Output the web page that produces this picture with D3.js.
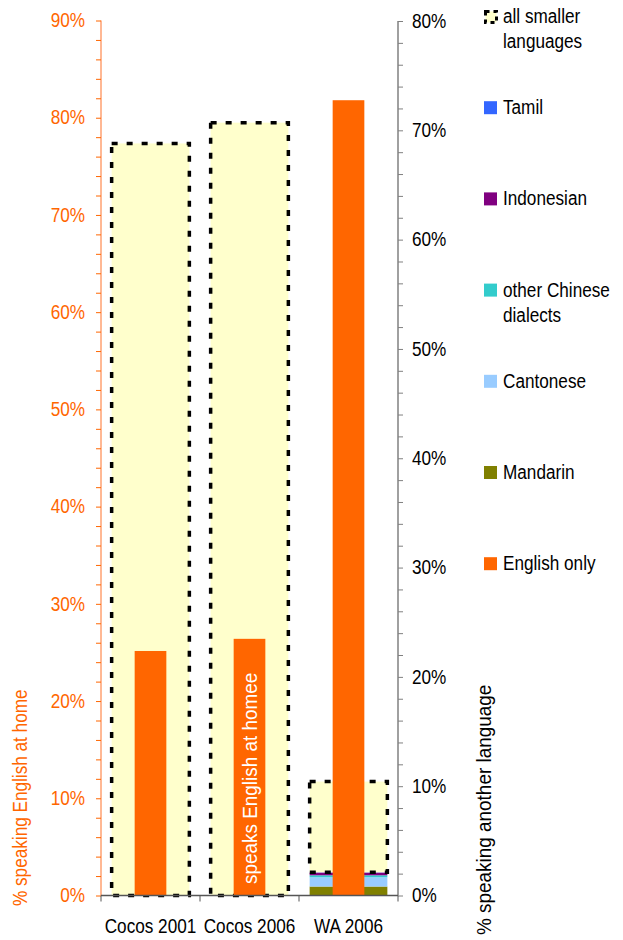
<!DOCTYPE html>
<html>
<head>
<meta charset="utf-8">
<script src="https://cdn.jsdelivr.net/npm/d3@7"></script>
<style>
  body { margin: 0; background: #fff; }
  text { font-family: "Liberation Sans", Arial, sans-serif; }
</style>
</head>
<body>
<div id="chart"></div>
<script>
// data
var categories = ["Cocos 2001", "Cocos 2006", "WA 2006"];
var englishOnly = [25.15, 26.4, 81.8];
var mandarin = [0, 0, 0.82];
var cantonese = [0, 0, 0.85];
var otherChinese = [0, 0, 0.18];
var indonesian = [0, 0, 0.25];
var tamil = [0, 0, 0.02];
var smaller = [68.8, 70.7, 8.3];

var leftTicks = d3.range(0, 91, 2);
var rightTicks = d3.range(0, 81, 2);

var stackKeys = ["Mandarin", "Cantonese", "other Chinese dialects", "Indonesian", "Tamil", "all smaller languages"];
var stackValues = [mandarin, cantonese, otherChinese, indonesian, tamil, smaller];
var colors = {
  "English only": "#FF6600",
  "Mandarin": "#808000",
  "Cantonese": "#99CCFF",
  "other Chinese dialects": "#33CCCC",
  "Indonesian": "#800080",
  "Tamil": "#3366FF",
  "all smaller languages": "#FFFFCC"
};
var legendOrder = ["all smaller languages", "Tamil", "Indonesian", "other Chinese dialects", "Cantonese", "Mandarin", "English only"];

var width = 623, height = 940,
    fontSize = 19.5,
    squeeze = 0.88;   // the original font is a bit condensed

var svg = d3.select("#chart")
            .append("svg")
              .attr("width", width)
              .attr("height", height);

// scales
var x = d3.scaleBand()
          .domain(categories)
          .range([101, 398])
          .padding(0);

var yLeft = d3.scaleLinear()
              .domain([0, 90])
              .range([895.5, 20.5]);

var yRight = d3.scaleLinear()
               .domain([0, 80])
               .range([895.5, 21]);

// table for stacking
var table = categories.map(function(c, i) {
  var row = {cat: c};
  stackKeys.forEach(function(k, j) { row[k] = stackValues[j][i]; });
  return row;
});
var series = d3.stack().keys(stackKeys)(table);

var wideW = x.bandwidth() * 0.785,
    narrowW = x.bandwidth() * 0.32;

// stacked other-language bars (right axis)
series.forEach(function(s) {
  var isSmaller = s.key === "all smaller languages";
  svg.append("g")
     .selectAll("rect")
     .data(s)
   .enter().append("rect")
     .attr("x", function(d) { return x(d.data.cat) + (x.bandwidth() - wideW) / 2; })
     .attr("width", wideW)
     .attr("y", function(d) { return yRight(d[1]); })
     .attr("height", function(d) { return Math.max(0, yRight(d[0]) - yRight(d[1])); })
     .attr("fill", colors[s.key])
     .attr("stroke", isSmaller ? "#000" : "none")
     .attr("stroke-width", isSmaller ? 3.5 : 0)
     .attr("stroke-dasharray", isSmaller ? "6,9" : null);
});

// english only bars (left axis)
svg.append("g")
   .selectAll("rect")
   .data(englishOnly)
 .enter().append("rect")
   .attr("x", function(d, i) { return x(categories[i]) + (x.bandwidth() - narrowW) / 2; })
   .attr("width", narrowW)
   .attr("y", function(d) { return yLeft(d); })
   .attr("height", function(d) { return yLeft(0) - yLeft(d); })
   .attr("fill", colors["English only"]);

// label inside the Cocos 2006 bar
var cx = x("Cocos 2006") + x.bandwidth() / 2;
svg.append("text")
   .attr("class", "loose")
   .attr("transform", "translate(" + (cx + 7) + ",884) rotate(-90)")
   .attr("fill", "#fff")
   .attr("font-size", fontSize)
   .text("speaks English at homee");

// left axis
var leftAxis = d3.axisLeft(yLeft)
                 .tickValues(leftTicks)
                 .tickSize(5)
                 .tickFormat(function(d) { return d % 10 === 0 ? d + "%" : ""; });
var gl = svg.append("g")
            .attr("transform", "translate(101,0)")
            .call(leftAxis);
gl.select(".domain").attr("stroke", "#FFA070").attr("stroke-width", 1.5).attr("d", "M0,20.5V895.5");
gl.selectAll(".tick line").attr("stroke", "#FF6600");
gl.selectAll(".tick text")
  .attr("fill", "#FF6600")
  .attr("font-size", fontSize)
  .attr("x", -16);

// right axis
var rightAxis = d3.axisRight(yRight)
                  .tickValues(rightTicks)
                  .tickSize(5)
                  .tickFormat(function(d) { return d % 10 === 0 ? d + "%" : ""; });
var gr = svg.append("g")
            .attr("transform", "translate(398,0)")
            .call(rightAxis);
gr.select(".domain").attr("stroke", "#808080").attr("stroke-width", 1.5).attr("d", "M0,21V895.5");
gr.selectAll(".tick line").attr("stroke", "#808080");
gr.selectAll(".tick text")
  .attr("fill", "#000")
  .attr("font-size", fontSize)
  .attr("x", 14);
svg.selectAll("g").attr("font-family", null);

// category axis
var bottom = svg.append("g").attr("transform", "translate(0,895.5)");
bottom.append("line")
      .attr("x1", 101).attr("x2", 398)
      .attr("stroke", "#555").attr("stroke-width", 1.5);
bottom.selectAll(".ctick")
      .data(categories.concat([null]))
    .enter().append("line")
      .attr("x1", function(d) { return d ? x(d) : x.range()[1]; })
      .attr("x2", function(d) { return d ? x(d) : x.range()[1]; })
      .attr("y1", 0).attr("y2", 6)
      .attr("stroke", "#555");
bottom.selectAll(".clabel")
      .data(categories)
    .enter().append("text")
      .attr("x", function(d) { return x(d) + x.bandwidth() / 2; })
      .attr("y", 37)
      .attr("text-anchor", "middle")
      .attr("font-size", fontSize)
      .attr("fill", "#000")
      .text(function(d) { return d; });

// axis titles
svg.append("text")
   .attr("transform", "translate(27,906) rotate(-90)")
   .attr("fill", "#FF6600")
   .attr("font-size", fontSize)
   .text("% speaking English at home");

svg.append("text")
   .attr("class", "loose")
   .attr("transform", "translate(491,935) rotate(-90)")
   .attr("fill", "#000")
   .attr("font-size", fontSize)
   .text("% speaking another language");

// legend
var legend = svg.append("g").attr("transform", "translate(484,0)");
legendOrder.forEach(function(k, i) {
  var top = 10 + i * 91.2;
  var isSmaller = k === "all smaller languages";
  legend.append("rect")
        .attr("x", isSmaller ? 1.5 : 0)
        .attr("y", top + (isSmaller ? 1.5 : 0))
        .attr("width", isSmaller ? 11 : 13)
        .attr("height", isSmaller ? 11 : 13)
        .attr("fill", colors[k])
        .attr("stroke", isSmaller ? "#000" : "none")
        .attr("stroke-width", isSmaller ? 3 : 0)
        .attr("stroke-dasharray", isSmaller ? "4,4" : null);
  var words = k === "all smaller languages" ? ["all smaller", "languages"]
            : k === "other Chinese dialects" ? ["other Chinese", "dialects"]
            : [k];
  var t = legend.append("text")
                .attr("x", 19)
                .attr("y", top + 13)
                .attr("font-size", fontSize)
                .attr("fill", "#000");
  words.forEach(function(w, j) {
    t.append("tspan").attr("x", 19).attr("dy", j === 0 ? 0 : 25).text(w);
  });
});

// condense every text run a little
svg.selectAll("text").each(function() {
  var f = d3.select(this).classed("loose") ? 0.97 : squeeze;
  var spans = d3.select(this).selectAll("tspan");
  if (spans.empty()) {
    var len = this.getComputedTextLength();
    if (len > 0) {
      d3.select(this).attr("textLength", len * f).attr("lengthAdjust", "spacingAndGlyphs");
    }
  }
  else {
    spans.each(function() {
      var l = this.getComputedTextLength();
      d3.select(this).attr("textLength", l * f).attr("lengthAdjust", "spacingAndGlyphs");
    });
  }
});
</script>
</body>
</html>
